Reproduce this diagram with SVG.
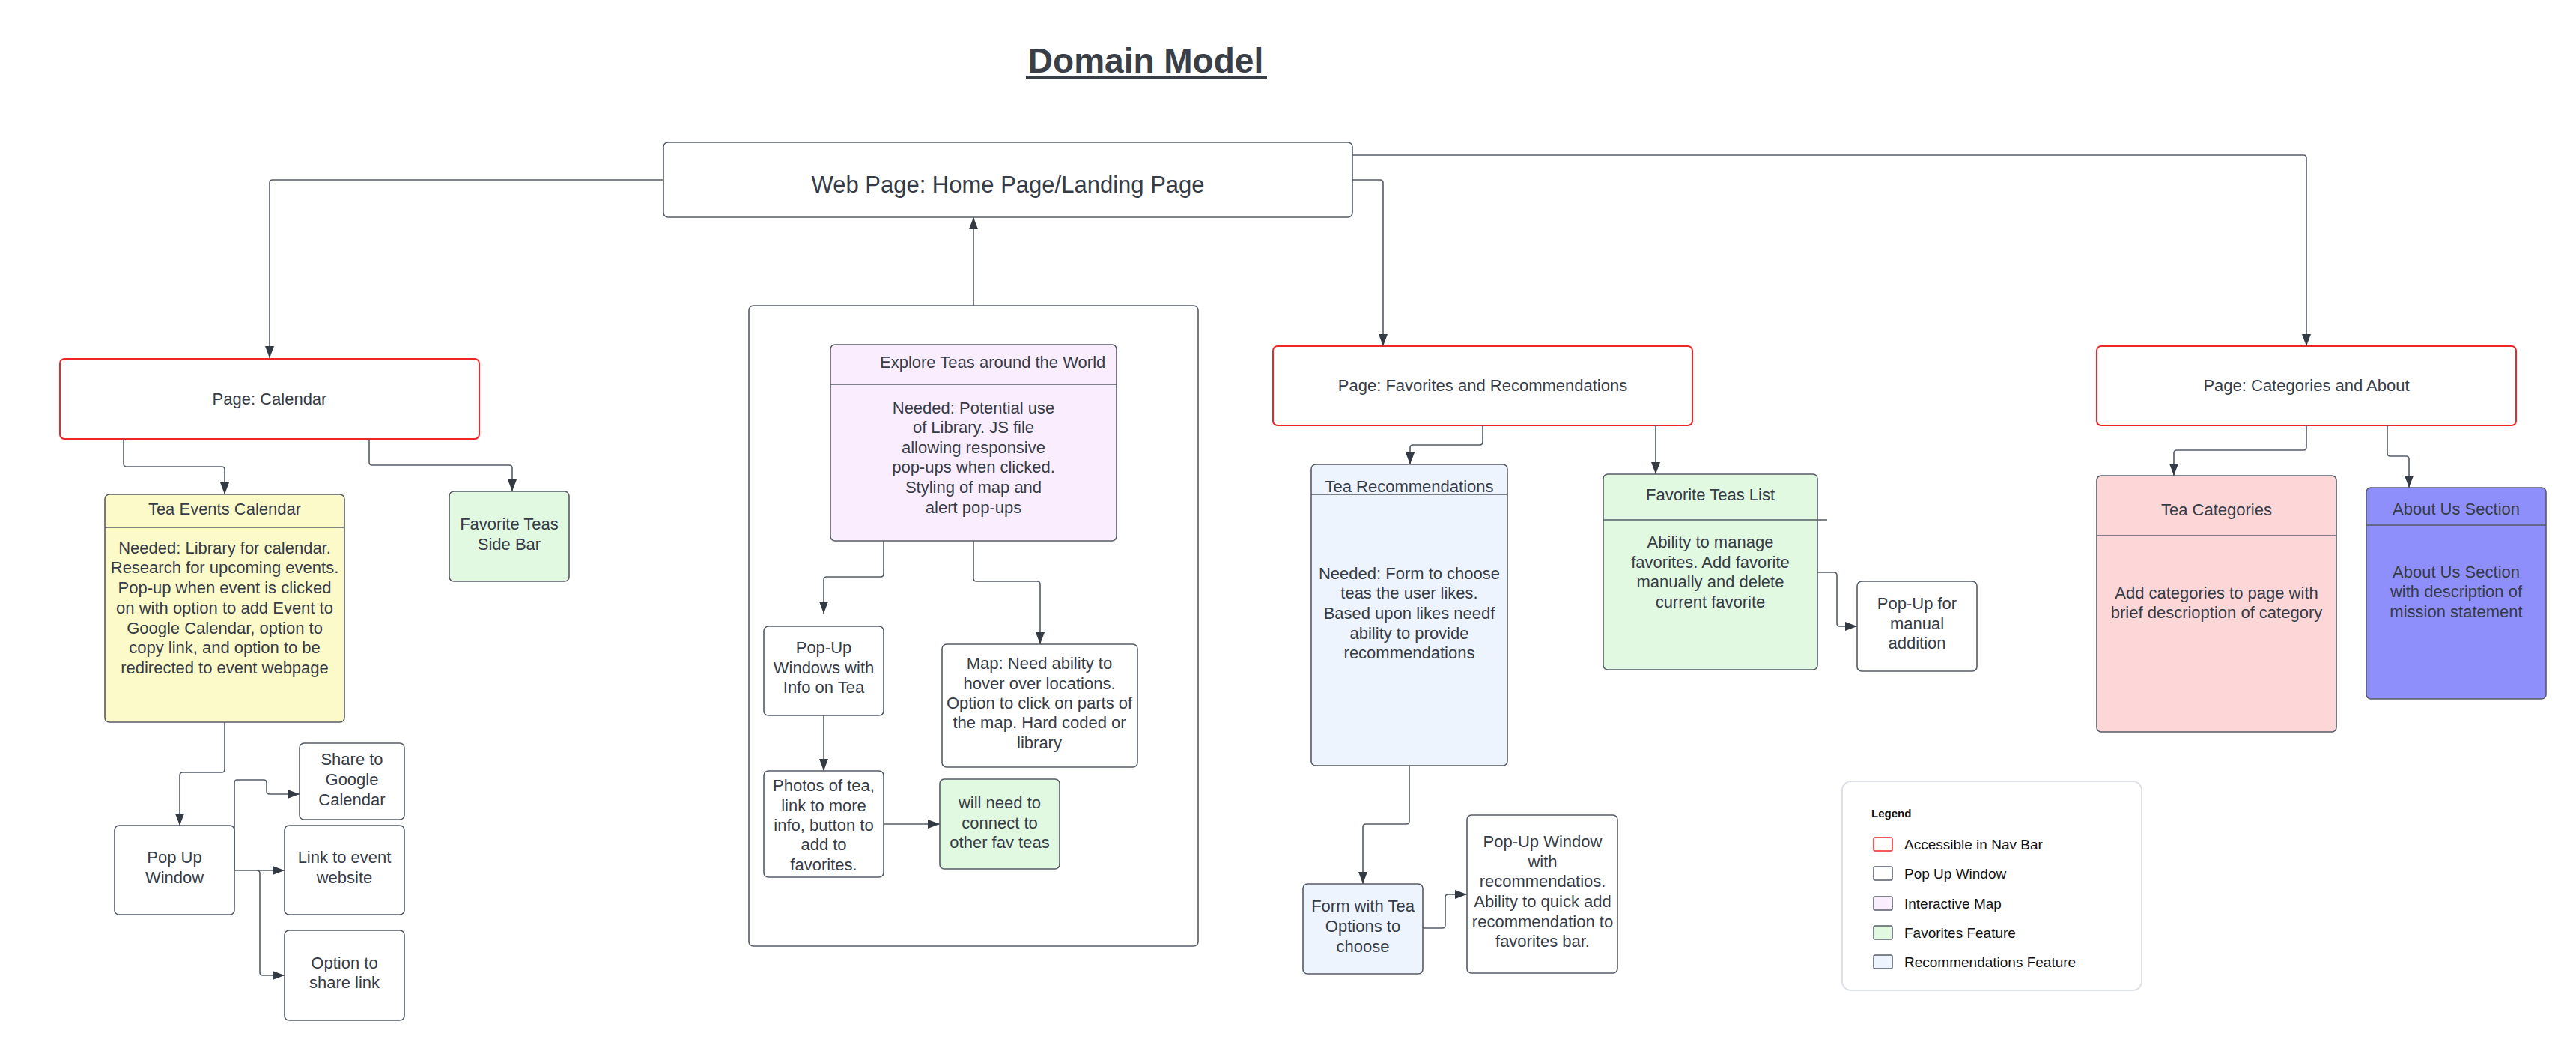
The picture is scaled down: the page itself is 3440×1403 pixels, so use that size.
<svg xmlns="http://www.w3.org/2000/svg" width="3440" height="1403" viewBox="0 0 3440 1403">
<defs>
<marker id="arr" markerUnits="userSpaceOnUse" markerWidth="16" markerHeight="12" refX="16" refY="6" orient="auto">
<path d="M0,0 L16,6 L0,12 z" fill="#343a44"/>
</marker>
<style>
.box{stroke:#555b65;stroke-width:1.6}
.page{fill:#ffffff;stroke:#ee2626;stroke-width:2}
.w{fill:#ffffff}
.yel{fill:#fcfac9}
.lav{fill:#faedfe}
.grn{fill:#e2f9e1}
.blu{fill:#edf4fe}
.pnk{fill:#fdd7d8}
.per{fill:#8f8ffc}
.div{stroke:#555b65;stroke-width:1.6}
text{font-family:"Liberation Sans",Arial,sans-serif;fill:#363c47}
.t{font-size:22px;text-anchor:middle}
.tl{font-size:31px;text-anchor:middle}
.lg{font-size:19px;fill:#111111}
.conn path{fill:none;stroke:#555b65;stroke-width:1.6;stroke-linejoin:round}
</style>
</defs>
<rect x="0" y="0" width="3440" height="1403" fill="#ffffff"/>

<g id="title">
<text x="1530" y="97" style="font-size:46px;font-weight:bold;text-anchor:middle;fill:#3a3f47">Domain Model</text>
<rect x="1370" y="101" width="322" height="4" fill="#3a3f47"/>
</g>

<g id="home">
<rect class="box w" x="886" y="190" width="920" height="100" rx="6"/>
<text class="tl" x="1346" y="257">Web Page: Home Page/Landing Page</text>
</g>

<g id="page-calendar">
<rect class="page" x="80" y="479" width="560" height="107" rx="6"/>
<text class="t" x="360" y="540">Page: Calendar</text>
</g>

<g id="tea-events">
<rect class="box yel" x="140" y="660" width="320" height="304" rx="6"/>
<line class="div" x1="140" y1="704" x2="460" y2="704"/>
<text class="t" x="300" y="687">Tea Events Calendar</text>
<text class="t" x="300" y="739">Needed: Library for calendar.</text>
<text class="t" x="300" y="765">Research for upcoming events.</text>
<text class="t" x="300" y="792">Pop-up when event is clicked</text>
<text class="t" x="300" y="819">on with option to add Event to</text>
<text class="t" x="300" y="846">Google Calendar, option to</text>
<text class="t" x="300" y="872">copy link, and option to be</text>
<text class="t" x="300" y="899">redirected to event webpage</text>
</g>

<g id="fav-side-bar">
<rect class="box grn" x="600" y="656" width="160" height="120" rx="6"/>
<text class="t" x="680" y="707">Favorite Teas</text>
<text class="t" x="680" y="734">Side Bar</text>
</g>

<g id="popup-window">
<rect class="box w" x="153" y="1102" width="160" height="119" rx="6"/>
<text class="t" x="233" y="1152">Pop Up</text>
<text class="t" x="233" y="1179">Window</text>
</g>

<g id="share-google">
<rect class="box w" x="400" y="992" width="140" height="102" rx="6"/>
<text class="t" x="470" y="1021">Share to</text>
<text class="t" x="470" y="1048">Google</text>
<text class="t" x="470" y="1075">Calendar</text>
</g>

<g id="link-event">
<rect class="box w" x="380" y="1102" width="160" height="119" rx="6"/>
<text class="t" x="460" y="1152">Link to event</text>
<text class="t" x="460" y="1179">website</text>
</g>

<g id="share-link">
<rect class="box w" x="380" y="1242" width="160" height="120" rx="6"/>
<text class="t" x="460" y="1293">Option to</text>
<text class="t" x="460" y="1319">share link</text>
</g>

<g id="map-container">
<rect class="box w" x="1000" y="408" width="600" height="855" rx="6"/>
</g>

<g id="explore">
<rect class="box lav" x="1109" y="460" width="382" height="262" rx="6"/>
<line class="div" x1="1109" y1="513" x2="1491" y2="513"/>
<text x="1175" y="491" style="font-size:22px">Explore Teas around the World</text>
<text class="t" x="1300" y="552">Needed: Potential use</text>
<text class="t" x="1300" y="578">of Library. JS file</text>
<text class="t" x="1300" y="605">allowing responsive</text>
<text class="t" x="1300" y="631">pop-ups when clicked.</text>
<text class="t" x="1300" y="658">Styling of map and</text>
<text class="t" x="1300" y="685">alert pop-ups</text>
</g>

<g id="popup-info">
<rect class="box w" x="1020" y="836" width="160" height="119" rx="6"/>
<text class="t" x="1100" y="872">Pop-Up</text>
<text class="t" x="1100" y="899">Windows with</text>
<text class="t" x="1100" y="925">Info on Tea</text>
</g>

<g id="map">
<rect class="box w" x="1258" y="860" width="261" height="164" rx="6"/>
<text class="t" x="1388" y="893">Map: Need ability to</text>
<text class="t" x="1388" y="920">hover over locations.</text>
<text class="t" x="1388" y="946">Option to click on parts of</text>
<text class="t" x="1388" y="972">the map. Hard coded or</text>
<text class="t" x="1388" y="999">library</text>
</g>

<g id="photos">
<rect class="box w" x="1020" y="1029" width="160" height="142" rx="6"/>
<text class="t" x="1100" y="1056">Photos of tea,</text>
<text class="t" x="1100" y="1083">link to more</text>
<text class="t" x="1100" y="1109">info, button to</text>
<text class="t" x="1100" y="1135">add to</text>
<text class="t" x="1100" y="1162">favorites.</text>
</g>

<g id="connect-fav">
<rect class="box grn" x="1255" y="1040" width="160" height="120" rx="6"/>
<text class="t" x="1335" y="1079">will need to</text>
<text class="t" x="1335" y="1106">connect to</text>
<text class="t" x="1335" y="1132">other fav teas</text>
</g>

<g id="page-favorites">
<rect class="page" x="1700" y="462" width="560" height="106" rx="6"/>
<text class="t" x="1980" y="522">Page: Favorites and Recommendations</text>
</g>

<g id="tea-recommendations">
<rect class="box blu" x="1751" y="620" width="262" height="402" rx="6"/>
<line class="div" x1="1751" y1="660" x2="2013" y2="660"/>
<text class="t" x="1882" y="657">Tea Recommendations</text>
<text class="t" x="1882" y="773">Needed: Form to choose</text>
<text class="t" x="1882" y="799">teas the user likes.</text>
<text class="t" x="1882" y="826">Based upon likes needf</text>
<text class="t" x="1882" y="853">ability to provide</text>
<text class="t" x="1882" y="879">recommendations</text>
</g>

<g id="fav-list">
<rect class="box grn" x="2141" y="633" width="286" height="261" rx="6"/>
<line class="div" x1="2141" y1="694" x2="2440" y2="694"/>
<text class="t" x="2284" y="668">Favorite Teas List</text>
<text class="t" x="2284" y="731">Ability to manage</text>
<text class="t" x="2284" y="758">favorites. Add favorite</text>
<text class="t" x="2284" y="784">manually and delete</text>
<text class="t" x="2284" y="811">current favorite</text>
</g>

<g id="popup-manual">
<rect class="box w" x="2480" y="776" width="160" height="120" rx="6"/>
<text class="t" x="2560" y="813">Pop-Up for</text>
<text class="t" x="2560" y="840">manual</text>
<text class="t" x="2560" y="866">addition</text>
</g>

<g id="form-options">
<rect class="box blu" x="1740" y="1180" width="160" height="120" rx="6"/>
<text class="t" x="1820" y="1217">Form with Tea</text>
<text class="t" x="1820" y="1244">Options to</text>
<text class="t" x="1820" y="1271">choose</text>
</g>

<g id="popup-recommendations">
<rect class="box w" x="1959" y="1088" width="201" height="211" rx="6"/>
<text class="t" x="2060" y="1131">Pop-Up Window</text>
<text class="t" x="2060" y="1158">with</text>
<text class="t" x="2060" y="1184">recommendatios.</text>
<text class="t" x="2060" y="1211">Ability to quick add</text>
<text class="t" x="2060" y="1238">recommendation to</text>
<text class="t" x="2060" y="1264">favorites bar.</text>
</g>

<g id="page-categories">
<rect class="page" x="2800" y="462" width="560" height="106" rx="6"/>
<text class="t" x="3080" y="522">Page: Categories and About</text>
</g>

<g id="tea-categories">
<rect class="box pnk" x="2800" y="635" width="320" height="342" rx="6"/>
<line class="div" x1="2800" y1="715" x2="3120" y2="715"/>
<text class="t" x="2960" y="688">Tea Categories</text>
<text class="t" x="2960" y="799">Add categories to page with</text>
<text class="t" x="2960" y="825">brief descrioption of category</text>
</g>

<g id="about-us">
<rect class="box per" x="3160" y="651" width="240" height="282" rx="6"/>
<line class="div" x1="3160" y1="701" x2="3400" y2="701"/>
<text class="t" x="3280" y="687">About Us Section</text>
<text class="t" x="3280" y="771">About Us Section</text>
<text class="t" x="3280" y="797">with description of</text>
<text class="t" x="3280" y="824">mission statement</text>
</g>

<g id="legend">
<rect x="2460" y="1043" width="400" height="279" rx="12" fill="#ffffff" stroke="#dde1e6" stroke-width="2"/>
<text x="2499" y="1091" style="font-size:15px;font-weight:bold;fill:#111111">Legend</text>
<rect x="2502" y="1118" width="25" height="18" rx="2" fill="#ffffff" stroke="#ee2626" stroke-width="1.5"/>
<text class="lg" x="2543" y="1134">Accessible in Nav Bar</text>
<rect x="2502" y="1157" width="25" height="18" rx="2" fill="#ffffff" stroke="#555b65" stroke-width="1.5"/>
<text class="lg" x="2543" y="1173">Pop Up Window</text>
<rect x="2502" y="1197" width="25" height="18" rx="2" fill="#faedfe" stroke="#555b65" stroke-width="1.5"/>
<text class="lg" x="2543" y="1213">Interactive Map</text>
<rect x="2502" y="1236" width="25" height="18" rx="2" fill="#e2f9e1" stroke="#555b65" stroke-width="1.5"/>
<text class="lg" x="2543" y="1252">Favorites Feature</text>
<rect x="2502" y="1275" width="25" height="18" rx="2" fill="#edf4fe" stroke="#555b65" stroke-width="1.5"/>
<text class="lg" x="2543" y="1291">Recommendations Feature</text>
</g>

<g id="connectors" class="conn">
<path d="M886,240 H364 Q360,240 360,244 V478" marker-end="url(#arr)"/>
<path d="M1806,240 H1843 Q1847,240 1847,244 V462" marker-end="url(#arr)"/>
<path d="M1806,207 H3076 Q3080,207 3080,211 V462" marker-end="url(#arr)"/>
<path d="M1300,408 V290" marker-end="url(#arr)"/>
<path d="M165,586 V619 Q165,623 169,623 H296 Q300,623 300,627 V660" marker-end="url(#arr)"/>
<path d="M493,586 V617 Q493,621 497,621 H680 Q684,621 684,625 V656" marker-end="url(#arr)"/>
<path d="M300,964 V1027 Q300,1031 296,1031 H244 Q240,1031 240,1035 V1102" marker-end="url(#arr)"/>
<path d="M313,1162 V1045 Q313,1041 317,1041 H352 Q356,1041 356,1045 V1056 Q356,1060 360,1060 H400" marker-end="url(#arr)"/>
<path d="M313,1162 H380" marker-end="url(#arr)"/>
<path d="M343,1162 Q347,1162 347,1166 V1298 Q347,1302 351,1302 H380" marker-end="url(#arr)"/>
<path d="M1180,722 V766 Q1180,770 1176,770 H1104 Q1100,770 1100,774 V819" marker-end="url(#arr)"/>
<path d="M1300,722 V772 Q1300,776 1304,776 H1385 Q1389,776 1389,780 V860" marker-end="url(#arr)"/>
<path d="M1100,955 V1029" marker-end="url(#arr)"/>
<path d="M1180,1100 H1255" marker-end="url(#arr)"/>
<path d="M1980,568 V590 Q1980,594 1976,594 H1887 Q1883,594 1883,598 V620" marker-end="url(#arr)"/>
<path d="M2211,568 V633" marker-end="url(#arr)"/>
<path d="M2427,764 H2449 Q2453,764 2453,768 V832 Q2453,836 2457,836 H2480" marker-end="url(#arr)"/>
<path d="M1882,1022 V1096 Q1882,1100 1878,1100 H1824 Q1820,1100 1820,1104 V1180" marker-end="url(#arr)"/>
<path d="M1900,1239 H1926 Q1930,1239 1930,1235 V1198 Q1930,1194 1934,1194 H1959" marker-end="url(#arr)"/>
<path d="M3080,568 V597 Q3080,601 3076,601 H2907 Q2903,601 2903,605 V635" marker-end="url(#arr)"/>
<path d="M3188,568 V605 Q3188,609 3192,609 H3213 Q3217,609 3217,613 V651" marker-end="url(#arr)"/>
</g>
</svg>
